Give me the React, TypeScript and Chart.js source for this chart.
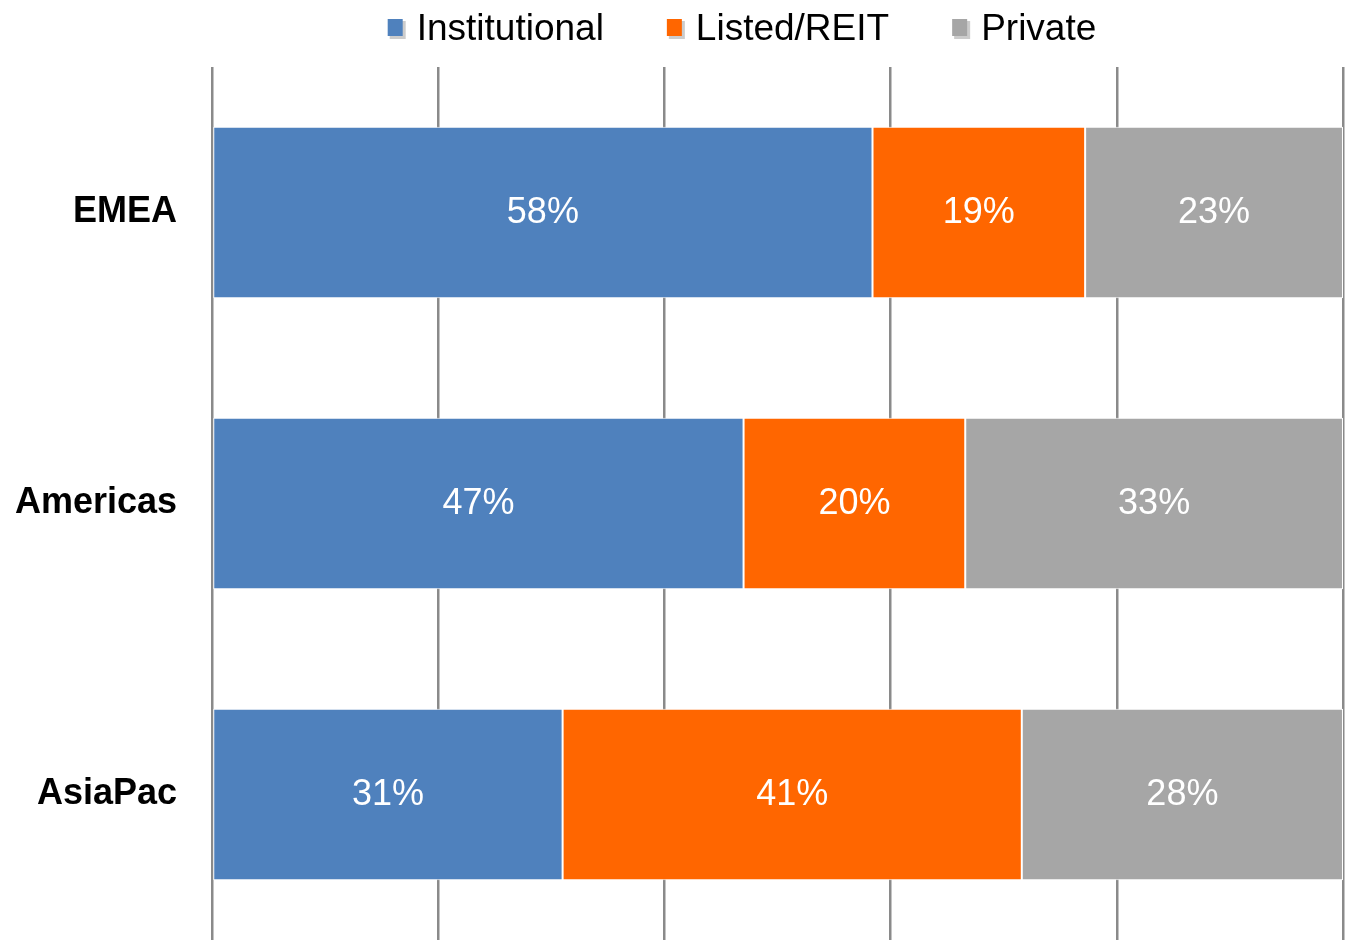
import React, { useEffect, useRef } from "react";
import { Chart, registerables } from "chart.js";

Chart.register(...registerables);

const categories = ["EMEA", "Americas", "AsiaPac"];
const seriesNames = ["Institutional", "Listed/REIT", "Private"];
const institutional = [58.4, 47.0, 31.0];
const listedReit = [18.8, 19.6, 40.6];
const privateShare = [22.8, 33.4, 28.4];
const seriesColors = ["#4F81BD", "#FF6600", "#A6A6A6"];
const xTicks = [0, 20, 40, 60, 80, 100];

const FONT = '"Liberation Sans", Arial, Helvetica, sans-serif';

const dataLabelPlugin = {
  id: "segmentLabels",
  afterDatasetsDraw(chart: any) {
    const ctx = chart.ctx;
    ctx.save();
    ctx.font = `36px ${FONT}`;
    ctx.fillStyle = "#ffffff";
    ctx.textAlign = "center";
    ctx.textBaseline = "middle";
    chart.data.datasets.forEach((ds: any, di: number) => {
      const meta = chart.getDatasetMeta(di);
      meta.data.forEach((el: any, i: number) => {
        const v = ds.data[i];
        const p = el.getCenterPoint();
        ctx.fillText(`${Math.round(v)}%`, p.x, p.y + 1);
      });
    });
    ctx.restore();
  },
};

const legendPlugin = {
  id: "customLegend",
  afterDraw(chart: any) {
    const ctx = chart.ctx;
    const centerX = 742;
    const baseline = 40;
    const boxToText = 29;
    const itemGap = 63;
    ctx.save();
    ctx.font = `37px ${FONT}`;
    const items = chart.data.datasets.map((ds: any) => ({
      label: ds.label,
      color: ds.backgroundColor,
      w: ctx.measureText(ds.label).width,
    }));
    let total = 0;
    items.forEach((it: any, i: number) => {
      total += boxToText + it.w + (i < items.length - 1 ? itemGap : 0);
    });
    let x = centerX - total / 2;
    ctx.textBaseline = "alphabetic";
    ctx.textAlign = "left";
    items.forEach((it: any) => {
      ctx.fillStyle = "rgba(170,170,170,0.6)";
      ctx.fillRect(x + 2, 21, 16, 18);
      ctx.fillStyle = it.color;
      ctx.fillRect(x, 19, 15, 17);
      ctx.fillStyle = "#000000";
      ctx.fillText(it.label, x + boxToText, baseline);
      x += boxToText + it.w + itemGap;
    });
    ctx.restore();
  },
};

export default function App() {
  const ref = useRef<HTMLCanvasElement | null>(null);
  useEffect(() => {
    if (!ref.current) return;
    const seriesData = [institutional, listedReit, privateShare];
    const chart = new Chart(ref.current, {
      type: "bar",
      data: {
        labels: categories,
        datasets: seriesNames.map((name, i) => ({
          label: name,
          data: seriesData[i],
          backgroundColor: seriesColors[i],
          borderColor: "#ffffff",
          borderWidth: 1,
          borderSkipped: false,
          barPercentage: 1,
          categoryPercentage: 0.59,
        })),
      },
      options: {
        indexAxis: "y",
        responsive: false,
        animation: false,
        devicePixelRatio: 1,
        layout: { padding: { top: 67, bottom: 4, right: 2, left: 0 } },
        plugins: {
          legend: { display: false },
          tooltip: { enabled: false },
        },
        scales: {
          x: {
            stacked: true,
            min: 0,
            max: 100,
            afterBuildTicks: (scale: any) => {
              scale.ticks = xTicks.map((v) => ({ value: v }));
            },
            afterFit: (scale: any) => {
              scale.height = 0;
              scale.paddingLeft = 0;
              scale.paddingRight = 0;
            },
            ticks: { display: false },
            grid: {
              color: "#8a8a8a",
              lineWidth: 2.5,
              drawTicks: false,
            },
            border: { display: false },
          },
          y: {
            stacked: true,
            grid: { display: false, drawTicks: false },
            border: { display: false },
            ticks: {
              color: "#000000",
              font: { family: FONT, size: 36, weight: "bold" },
              padding: 35,
            },
            afterFit: (scale: any) => {
              scale.width = 212;
              scale.paddingTop = 0;
              scale.paddingBottom = 0;
            },
          },
        },
      } as any,
      plugins: [dataLabelPlugin, legendPlugin],
    });
    return () => chart.destroy();
  }, []);
  return (
    <div style={{ position: "fixed", left: 0, top: 0, width: 1345, height: 944, background: "#fff" }}>
      <canvas ref={ref} width={1345} height={944} style={{ display: "block" }} />
    </div>
  );
}
